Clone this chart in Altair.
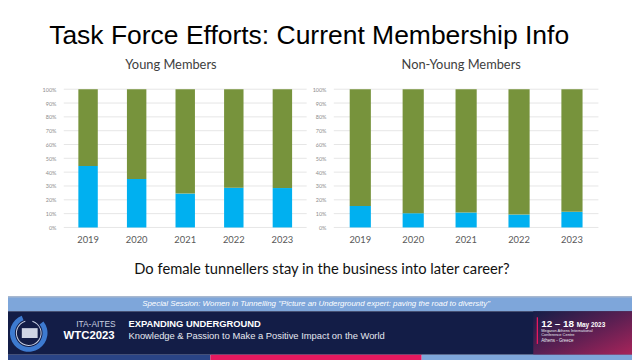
import altair as alt
import pandas as pd

# ---------------- data ----------------
years = ["2019", "2020", "2021", "2022", "2023"]
groups = ["Female", "Other"]
young_female = [0.445, 0.35, 0.245, 0.287, 0.285]
young_other = [0.555, 0.65, 0.755, 0.713, 0.715]
nonyoung_female = [0.156, 0.103, 0.108, 0.093, 0.113]
nonyoung_other = [0.844, 0.897, 0.892, 0.907, 0.887]
grid_ticks = [0.0, 0.1, 0.2, 0.3, 0.4, 0.5, 0.6, 0.7, 0.8, 0.9, 1.0]

title_text = "Task Force Efforts: Current Membership Info"
panel_titles = ["Young Members", "Non-Young Members"]
question_text = "Do female tunnellers stay in the business into later career?"
session_text = 'Special Session: Women in Tunnelling "Picture an Underground expert: paving the road to diversity"'

BLUE = "#00B0F0"
GREEN = "#77933C"
W, H = 632, 352
Y_BOTTOM, Y_TOP = 220, 80


def panel_df(female, other):
    rows = []
    for i, y in enumerate(years):
        rows.append({"year": y, "group": groups[0], "share": female[i], "order": 0})
        rows.append({"year": y, "group": groups[1], "share": other[i], "order": 1})
    return pd.DataFrame(rows)


def panel(df, x0, x1):
    xscale = alt.Scale(range=[x0, x1], paddingInner=0.6, paddingOuter=0.3)
    yscale = alt.Scale(domain=[0, 1], range=[Y_BOTTOM, Y_TOP], nice=False)
    yaxis = alt.Axis(orient="left", offset=-x0, format=".0%", values=grid_ticks,
                     labelFont="Lato", labelFontSize=5.5, labelColor="#8c8c8c",
                     labelPadding=8, ticks=False, tickSize=0, domain=False,
                     grid=False, title=None)
    grid = alt.Chart(pd.DataFrame({"share": grid_ticks})).mark_rule(
        color="#e6e6e6", strokeWidth=1
    ).encode(
        y=alt.Y("share:Q", scale=yscale, axis=yaxis),
        x=alt.value(x0), x2=alt.value(x1),
    )
    bars = alt.Chart(df).mark_bar().encode(
        x=alt.X("year:N", scale=xscale,
                axis=alt.Axis(orient="bottom", offset=-(H - Y_BOTTOM), labelAngle=0,
                              labelFont="Lato", labelFontSize=9.5, labelColor="#595959",
                              labelPadding=7, ticks=False, tickSize=0, domain=False,
                              grid=False, title=None)),
        y=alt.Y("share:Q", stack="normalize", scale=yscale, axis=yaxis),
        color=alt.Color("group:N", scale=alt.Scale(domain=groups, range=[BLUE, GREEN]), legend=None),
        order=alt.Order("order:Q"),
    )
    return alt.layer(grid, bars)


anchor = pd.DataFrame({"k": [0]})


def label(text, x, y, size, font="Lato", color="#000000", weight="normal", style="normal",
          align="center", baseline="middle"):
    return alt.Chart(anchor).mark_text(
        text=text, font=font, fontSize=size, color=color, fontWeight=weight,
        fontStyle=style, align=align, baseline=baseline
    ).encode(x=alt.value(x), y=alt.value(y))


def box(x, x2, y, y2, color):
    return alt.Chart(anchor).mark_rect(color=color).encode(
        x=alt.value(x), x2=alt.value(x2), y=alt.value(y), y2=alt.value(y2)
    )


grad = alt.LinearGradient(
    gradient="linear",
    stops=[alt.GradientStop(color="#151d47", offset=0),
           alt.GradientStop(color="#5a1f52", offset=0.5),
           alt.GradientStop(color="#a8245a", offset=1)],
    x1=0, x2=1, y1=0, y2=1,
)
grad_box = alt.Chart(anchor).mark_rect(color=grad).encode(
    x=alt.value(532), x2=alt.value(W), y=alt.value(305), y2=alt.value(349)
)

logo_ring = alt.Chart(anchor).mark_arc(radius=19, radius2=14, theta=0.9, theta2=5.9,
                                       color="#3d7ad0").encode(x=alt.value(21), y=alt.value(327))
logo_inner = alt.Chart(anchor).mark_arc(radius=13, radius2=12, theta=0.3, theta2=6.0,
                                        color="#c8d0e4").encode(x=alt.value(21), y=alt.value(327))
logo_bld = box(14, 30, 322, 332, "#cfd5e4")

footer = [
    box(0, W, 290, 291, "#52739f"),
    box(0, W, 291, 305, "#7ea6da"),
    box(0, W, 305, 349, "#131d47"),
    grad_box,
    box(0, 205, 349, W, "#2a4486"),
    box(205, 419, 349, W, "#e6195f"),
    box(419, W, 349, W, "#7ea6da"),
    logo_ring, logo_inner, logo_bld,
    label(session_text, 312, 298, 8, font="Liberation Sans", color="#ffffff", style="italic"),
    label("ITA-AITES", 109, 318, 8.5, font="Liberation Sans", color="#c9d0e0", align="right"),
    label("WTC2023", 108, 330, 11.5, font="Liberation Sans", color="#ffffff", weight="bold", align="right"),
    label("EXPANDING UNDERGROUND", 122, 318, 9.5, font="Liberation Sans", color="#ffffff", weight="bold", align="left"),
    label("Knowledge & Passion to Make a Positive Impact on the World", 122, 330, 9.5,
          font="Liberation Sans", color="#e6e8f0", align="left"),
    box(535.5, 536.8, 311, 338, "#e6195f"),
    label("12 – 18", 540, 318, 10, font="Liberation Sans", color="#ffffff", weight="bold", align="left"),
    label("May 2023", 576, 319, 6.5, font="Liberation Sans", color="#ffffff", weight="bold", align="left"),
    label("Megaron Athens International", 540, 325, 4, font="Liberation Sans", color="#e8e8f0", align="left"),
    label("Conference Centre", 540, 329, 4, font="Liberation Sans", color="#e8e8f0", align="left"),
    label("Athens - Greece", 540, 335.5, 4.5, font="Liberation Sans", color="#e8e8f0", align="left"),
]

texts = [
    label(title_text, 305, 34, 26.8, font="Liberation Sans", color="#000000", baseline="alphabetic"),
    label(panel_titles[0], 165, 56, 13, color="#404040"),
    label(panel_titles[1], 459, 56, 13, color="#404040"),
    label(question_text, 318, 263, 14.9, color="#111111"),
]

left = panel(panel_df(young_female, young_other), 56.5, 302.5)
right = panel(panel_df(nonyoung_female, nonyoung_other), 330, 598)

chart = alt.layer(*footer, left, right, *texts).resolve_scale(
    x="independent", y="independent"
).properties(
    width=W, height=H, padding=0, autosize=alt.AutoSizeParams(type="none"),
    background="white",
).configure_view(strokeWidth=0)

chart.save("out.html", embed_options={"renderer": "svg", "actions": False})
